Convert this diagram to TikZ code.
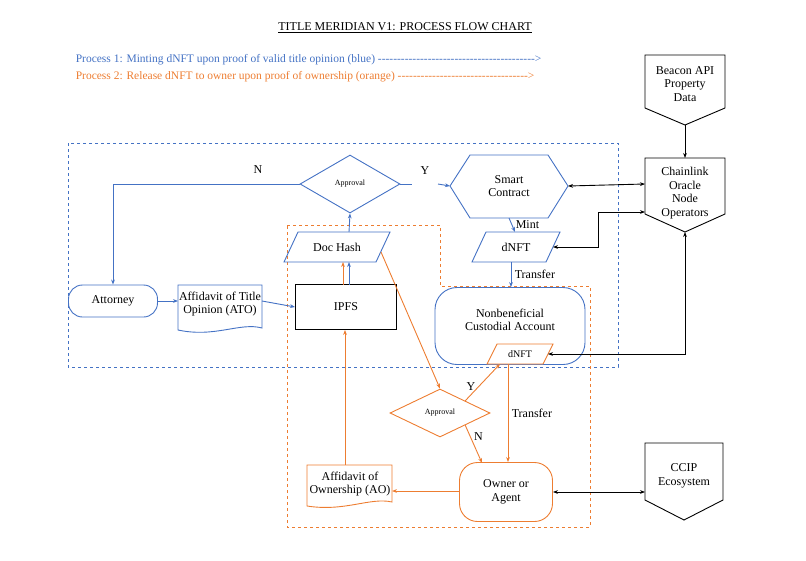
\documentclass[tikz,border=0pt]{standalone}
\usepackage{fontspec}
\setmainfont{Liberation Serif}
\newfontface\nolig{Liberation Serif}
\usetikzlibrary{shapes.geometric,arrows.meta}
\definecolor{bl}{RGB}{68,114,196}
\definecolor{og}{RGB}{237,125,49}
\begin{document}
\begin{tikzpicture}[x=1pt,y=-1pt,line width=0.9pt,
  t/.style={font=\fontsize{12}{13.5}\selectfont,align=center,text=black},
  bbox/.style={draw=bl},
  obox/.style={draw=og},
  ba/.style={bl,-{Stealth[length=5pt]}},
  oa/.style={og,-{Stealth[length=5pt]}},
  ka/.style={black,{Stealth[length=5pt]}-{Stealth[length=5pt]}},
  dia/.style={diamond,aspect=1.75,inner sep=1pt,font=\fontsize{8}{9}\selectfont,text=black},
  pill/.style={rounded corners=14pt,t}]
\useasboundingbox (0,0) rectangle (806,560);
\node[font=\fontsize{12}{13}\selectfont] (title) at (405,28) {\underline{TITLE MERIDIAN V1: PROCESS FLOW CHART}};
\node[anchor=west,text=bl,font=\nolig\fontsize{11.5}{13}\selectfont] (p1) at (72,60) {Process 1: Minting dNFT upon proof of valid title opinion (blue) ----------------------------------------->};
\node[anchor=west,text=og,font=\nolig\fontsize{11.5}{13}\selectfont] (p2) at (72,77) {Process 2: Release dNFT to owner upon proof of ownership (orange) ---------------------------------->};
% containers
\draw[bl,dashed,line width=0.7pt] (68,143) rectangle (618,367);
\draw[og,dashed] (287,225) -- (440,225) -- (440,286) -- (590,286) -- (590,527) -- (287,527) -- cycle;
% pentagons
\draw (645,55) -- (725,55) -- (725,108) -- (685,125) -- (645,108) -- cycle;
\node[t] (beacon) at (685,84) {Beacon API\\Property\\Data};
\draw (645,158) -- (725,158) -- (725,214) -- (685,232) -- (645,214) -- cycle;
\node[t] (chain) at (685,193) {Chainlink\\Oracle\\Node\\Operators};
\coordinate (chainL) at (645,184);
\coordinate (chainL2) at (645,212);
\coordinate (chainB) at (685,232);
\coordinate (chainT) at (685,158);
\coordinate (beaconB) at (685,125);
\draw (645,443) -- (723,443) -- (723,500) -- (684,520) -- (645,500) -- cycle;
\node[t] (ccip) at (684,476) {CCIP\\Ecosystem};
\coordinate (ccipL) at (645,492);
% blue nodes
\node[dia,bbox,minimum width=100pt,minimum height=58pt] (ap1) at (350,184) {Approval};
\draw[bl] (450,186) -- (470,155) -- (548,155) -- (568,186) -- (548,218) -- (470,218) -- cycle;
\node[t] (sc) at (509,186) {Smart\\Contract};
\coordinate (scL) at (450,186); \coordinate (scR) at (568,186); \coordinate (scB) at (509,218);
\draw[bl] (472,262) -- (486,232) -- (560,232) -- (546,262) -- cycle;
\node[t] (dn1) at (516,247) {dNFT};
\coordinate (dn1T) at (515,232); \coordinate (dn1B) at (511,262); \coordinate (dn1R) at (553,247);
\node[draw=bl,rounded corners=22pt,minimum width=150pt,minimum height=77pt] (nca) at (510,326) {};
\node[t] (ncat) at (510,320) {Nonbeneficial\\Custodial Account};
\draw[og,fill=white] (487,364) -- (497,344) -- (553,344) -- (543,364) -- cycle;
\node[t,font=\fontsize{10}{11}\selectfont] (dn2) at (520,354) {dNFT};
\coordinate (dn2R) at (548,354); \coordinate (dn2B) at (508,364); \coordinate (dn2BL) at (500,364);
\draw[bl] (284,262) -- (298,232) -- (390,232) -- (376,262) -- cycle;
\node[t] (dh) at (337,247) {Doc Hash};
\coordinate (dhT) at (349,232); \coordinate (dhR) at (381,252);
\node[draw,minimum width=101pt,minimum height=45pt,t] (ipfs) at (346,307) {IPFS};
\node[draw=bl,pill,minimum width=89pt,minimum height=32pt] (att) at (113,301) {Attorney};
\draw[bl] (178,285) -- (262,285) -- (262,328) .. controls (240,322) and (215,338) .. (178,330) -- cycle;
\node[t] (ato) at (220,304) {Affidavit of Title\\Opinion (ATO)};
\coordinate (atoL) at (178,301); \coordinate (atoR) at (262,301);
% orange nodes
\node[dia,obox,minimum width=100pt,minimum height=48pt] (ap2) at (440,413) {Approval};
\node[draw=og,rounded corners=18pt,minimum width=93pt,minimum height=59pt,t] (own) at (506,492) {Owner or\\Agent};
\draw[og] (307,465) -- (392,465) -- (392,502) .. controls (370,497) and (345,512) .. (307,506) -- cycle;
\node[t] (ao) at (350,484) {Affidavit of\\Ownership (AO)};
\coordinate (aoR) at (392,491); \coordinate (aoT) at (345,465);
% blue connectors
\draw[ba] (ap1.west) -- (113,184) -- (att.north);
\node[t] (nlab) at (258,170) {N};
\draw[bl] (ap1.east) -- (412,184);
\node[t] (ylab) at (425,171) {Y};
\draw[ba] (438,184) -- (scL);
\draw[ba] (scB) -- node[right,t]{Mint} (dn1T);
\draw[ba] (dn1B) -- node[right,t]{Transfer} (nca.north -| dn1B);
\draw[ba] (att.east) -- (atoL);
\draw[ba] (atoR) -- (ipfs.west);
\draw[oa] (343,285) -- (343,262);
\draw[ba] (349,285) -- (349,262);
\draw[ba] (dhT) -- (ap1.south);
% black
\draw[ka] (scR) -- (chainL);
\draw[ka] (dn1R) -- (598,247) -- (598,212) -- (chainL2);
\draw[ka] (dn2R) -- (685,354) -- (chainB);
\draw[black,-{Stealth[length=5pt]}] (beaconB) -- (chainT);
\draw[ka] (own.east) -- (ccipL);
% orange connectors
\draw[oa] (dhR) -- (ap2.north);
\draw[oa] (ap2.north east) -- node[left,t,pos=0.4]{Y} (dn2BL);
\draw[oa] (ap2.south east) -- node[right,t,pos=0.3]{N} (482,463);
\draw[oa] (dn2B) -- node[right,t]{Transfer} (own.north -| dn2B);
\draw[oa] (own.west |- aoR) -- (aoR);
\draw[oa] (aoT) -- (ipfs.south -| aoT);
\end{tikzpicture}
\end{document}
